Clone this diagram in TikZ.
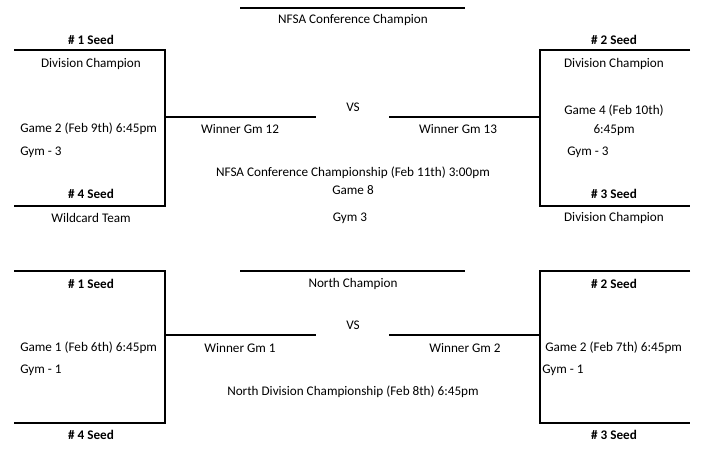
\documentclass[tikz,border=0pt]{standalone}
\usepackage{fontspec}
\setmainfont{Carlito}
\usetikzlibrary{positioning}
\usetikzlibrary{calc}
\tikzset{
  bar/.style={line width=2.2pt},
  txt/.style={font=\fontsize{9.9}{11}\selectfont, inner sep=0pt},
  seed/.style={txt, font=\fontsize{9.9}{11}\selectfont\bfseries}
}
\begin{document}
\begin{tikzpicture}[x=0.0264cm,y=-0.0264cm]
                \useasboundingbox (0,0) rectangle (706,455);
                % Define the coordinates of the bracket corners
                \coordinate (ta1) at (240,8);   \coordinate (ta2) at (465,8);
                \coordinate (ba1) at (240,271); \coordinate (ba2) at (465,271);
                \foreach \name/\yt/\ym/\yb in {t/50/117/206, b/271/335/423} {
                    \coordinate (\name l1) at (14,\yt);  \coordinate (\name l2) at (165,\yt);
                    \coordinate (\name l3) at (165,\yb); \coordinate (\name l4) at (14,\yb);
                    \coordinate (\name lm) at (165,\ym); \coordinate (\name lw) at (316,\ym);
                    \coordinate (\name r1) at (690,\yt); \coordinate (\name r2) at (540,\yt);
                    \coordinate (\name r3) at (540,\yb); \coordinate (\name r4) at (690,\yb);
                    \coordinate (\name rm) at (540,\ym); \coordinate (\name rw) at (389,\ym);
                    \draw[bar] (\name l1) -- (\name l2) -- (\name l3) -- (\name l4);
                    \draw[bar] (\name lm) -- (\name lw);
                    \draw[bar] (\name r1) -- (\name r2) -- (\name r3) -- (\name r4);
                    \draw[bar] (\name rm) -- (\name rw);
                }
                \draw[bar] (ta1) -- (ta2);
                \draw[bar] (ba1) -- (ba2);

                % Conference bracket
                \node[txt] (tchamp) at (353,20) {NFSA Conference Champion};
                \node[seed] (ts1) at (91,40) {\# 1 Seed};
                \node[txt] (tdiv1) at (91,64) {Division Champion};
                \node[txt, anchor=west] (tg2) at (20,129) {Game 2 (Feb 9th) 6:45pm};
                \node[txt, anchor=west] (tgym1) at (20,152) {Gym - 3};
                \node[seed] (ts4) at (91,194) {\# 4 Seed};
                \node[txt] (twild) at (91,218) {Wildcard Team};
                \node[txt] (tw12) at (240,129) {Winner Gm 12};
                \node[txt] (tvs) at (353,107) {VS};
                \node[txt] (tw13) at (458,129) {Winner Gm 13};
                \node[seed] (ts2) at (614,40) {\# 2 Seed};
                \node[txt] (tdiv2) at (614,64) {Division Champion};
                \node[txt] (tg4) at (614,111) {Game 4 (Feb 10th)};
                \node[txt] (tg4t) at (614,130) {6:45pm};
                \node[txt, anchor=west] (tgym2) at (567,152) {Gym - 3};
                \node[seed] (ts3) at (614,194) {\# 3 Seed};
                \node[txt] (tdiv3) at (614,218) {Division Champion};
                \node[txt] (tconf) at (353,173) {NFSA Conference Championship (Feb 11th) 3:00pm};
                \node[txt] (tg8) at (353,190) {Game 8};
                \node[txt] (tgym) at (350,218) {Gym 3};

                % North bracket
                \node[txt] (bchamp) at (353,284) {North Champion};
                \node[seed] (bs1) at (91,284) {\# 1 Seed};
                \node[txt, anchor=west] (bg1) at (20,348) {Game 1 (Feb 6th) 6:45pm};
                \node[txt, anchor=west] (bgym1) at (20,370) {Gym - 1};
                \node[seed] (bs4) at (91,435) {\# 4 Seed};
                \node[txt] (bw1) at (240,348) {Winner Gm 1};
                \node[txt] (bvs) at (353,325) {VS};
                \node[txt] (bw2) at (465,348) {Winner Gm 2};
                \node[seed] (bs2) at (614,284) {\# 2 Seed};
                \node[txt, anchor=west] (bg2) at (545,348) {Game 2 (Feb 7th) 6:45pm};
                \node[txt, anchor=west] (bgym2) at (542,370) {Gym - 1};
                \node[seed] (bs3) at (614,435) {\# 3 Seed};
                \node[txt] (bnorth) at (353,392) {North Division Championship (Feb 8th) 6:45pm};
\end{tikzpicture}
\end{document}
